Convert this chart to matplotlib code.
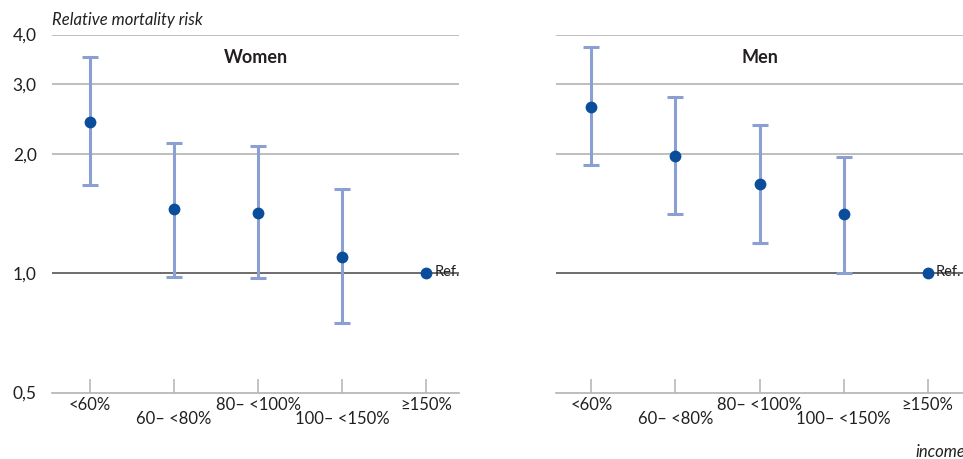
import matplotlib
matplotlib.use("Agg")
import matplotlib.pyplot as plt
import numpy as np
from matplotlib.ticker import FixedLocator, NullLocator

plt.rcParams['font.family'] = ['Lato', 'DejaVu Sans']

categories = ["<60%", "60– <80%", "80– <100%", "100– <150%", "≥150%"]

women_rr = [2.41, 1.45, 1.42, 1.10, 1.0]
women_lo = [1.67, 0.98, 0.97, 0.75, 1.0]
women_hi = [3.50, 2.13, 2.09, 1.63, 1.0]

men_rr = [2.63, 1.97, 1.68, 1.41, 1.0]
men_lo = [1.87, 1.41, 1.19, 1.00, 1.0]
men_hi = [3.73, 2.78, 2.36, 1.96, 1.0]

yticks = [0.5, 1.0, 2.0, 3.0, 4.0]
ytick_labels = ["0,5", "1,0", "2,0", "3,0", "4,0"]

panels = [("Women", women_rr, women_lo, women_hi), ("Men", men_rr, men_lo, men_hi)]

W, H = 963, 459
fig = plt.figure(figsize=(W / 100, H / 100), dpi=100)

bar_color = "#8c9fd3"
dot_color = "#0a4e9b"
grid_color = "#b3b3b3"
text_color = "#231f20"

top_px, bot_px = 34.5, 392.5
ax_rects = [
    (52 / W, 1 - bot_px / H, (459 - 52) / W, (bot_px - top_px) / H),
    (556 / W, 1 - bot_px / H, (963 - 556) / W, (bot_px - top_px) / H),
]
xlims = [(-0.45, 4.39), (-0.42, 4.42)]

for i, (name, rr, lo, hi) in enumerate(panels):
    ax = fig.add_axes(ax_rects[i])
    ax.set_yscale('log')
    ax.set_ylim(0.5, 4.0)
    ax.set_xlim(*xlims[i])
    x = np.arange(len(categories))
    rr_a = np.array(rr); lo_a = np.array(lo); hi_a = np.array(hi)
    for v in [2.0, 3.0, 4.0]:
        ax.axhline(v, color=grid_color, lw=1.2, zorder=1)
    ax.axhline(1.0, color="#6d6d6d", lw=1.4, zorder=1)
    n = len(categories) - 1
    ax.errorbar(x[:n], rr_a[:n], yerr=[rr_a[:n] - lo_a[:n], hi_a[:n] - rr_a[:n]],
                fmt='none', ecolor=bar_color, elinewidth=2.2, capsize=5.8,
                capthick=2.2, zorder=2)
    ax.plot(x, rr_a, 'o', color=dot_color, ms=8.5, zorder=3, mec='none')
    ax.text(x[-1] + 0.1, rr_a[-1] * 1.005, "Ref.", va='center', ha='left',
            fontsize=10.5, color=text_color)
    for s in ['top', 'right', 'left']:
        ax.spines[s].set_visible(False)
    ax.spines['bottom'].set_color(grid_color)
    ax.spines['bottom'].set_linewidth(1.2)
    ax.xaxis.set_major_locator(FixedLocator(x))
    ax.tick_params(axis='x', direction='in', length=10, width=1.1, color=grid_color,
                   labelsize=12, labelcolor=text_color, pad=3)
    labels = [c if j % 2 == 0 else "\n" + c for j, c in enumerate(categories)]
    ax.set_xticklabels(labels, linespacing=0.85)
    ax.yaxis.set_minor_locator(NullLocator())
    if i == 0:
        ax.yaxis.set_major_locator(FixedLocator(yticks))
        ax.set_yticklabels(ytick_labels)
        ax.tick_params(axis='y', length=0, labelsize=12.5, labelcolor=text_color, pad=11)
        for t in ax.get_yticklabels():
            t.set_verticalalignment('center_baseline')
    else:
        ax.yaxis.set_major_locator(NullLocator())
    ax.text(0.5, 0.96, name, transform=ax.transAxes, ha='center', va='top',
            fontsize=13, fontweight='bold', color=text_color)

fig.text(52 / W, 1 - 20 / H, "Relative mortality risk", fontsize=12, style='italic',
         va='center', ha='left', color=text_color)
fig.text(915 / W, 1 - 452 / H, "income", fontsize=12, style='italic',
         va='center', ha='left', color=text_color)

fig.savefig("out.png", dpi=100)
